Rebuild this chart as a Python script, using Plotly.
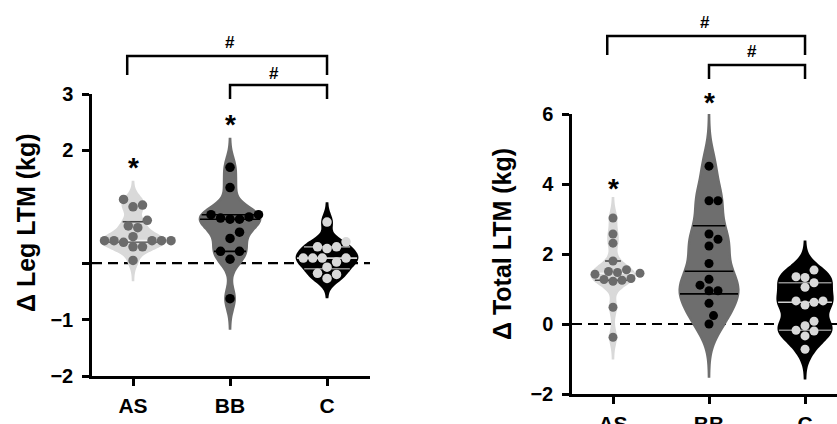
import numpy as np
import plotly.graph_objects as go

# ---------------- data ----------------
categories = ["AS", "BB", "C"]

leg_AS = [1.13, 1.03, 1.00, 0.76, 0.66, 0.63, 0.47, 0.40, 0.40, 0.40, 0.40, 0.40, 0.37, 0.29, 0.29, 0.05]
leg_BB = [1.70, 1.34, 0.86, 0.86, 0.82, 0.80, 0.78, 0.78, 0.55, 0.44, 0.21, 0.21, 0.07, -0.63]
leg_C = [0.73, 0.38, 0.29, 0.29, 0.26, 0.09, 0.09, 0.09, 0.09, 0.02, -0.07, -0.18, -0.20, -0.27]

tot_AS = [3.03, 2.57, 2.31, 1.80, 1.55, 1.50, 1.47, 1.45, 1.42, 1.30, 1.27, 1.25, 1.22, 0.48, -0.38]
tot_BB = [4.51, 3.52, 3.52, 2.57, 2.42, 2.23, 1.73, 1.28, 1.11, 0.95, 0.95, 0.59, 0.24, 0.00]
tot_C = [1.54, 1.35, 1.33, 1.18, 1.05, 0.66, 0.66, 0.62, 0.54, 0.08, -0.05, -0.18, -0.20, -0.34, -0.72]

# violin smoothing and extent
leg_bw = [0.12, 0.19, 0.13]
tot_bw = [0.22, 0.5, 0.3]
leg_spans = [[-0.30, 1.44], [-1.16, 2.20], [-0.60, 1.06]]
tot_spans = [[-0.98, 3.59], [-1.50, 6.00], [-1.55, 2.35]]
leg_widths = [0.64, 0.62, 0.62]
tot_widths = [0.44, 0.61, 0.57]

leg_ticks = [-2, -1, 0, 2, 3]
leg_ticktext = ["\u22122", "\u22121", "", "2", "3"]
tot_ticks = [-2, 0, 2, 4, 6]
tot_ticktext = ["\u22122", "0", "2", "4", "6"]

# ---------------- style ----------------
W, H = 837, 424
FONT = "Liberation Sans"
fills = ["#d9d9d9", "#6e6e6e", "#000000"]
dots = ["#6b6b6b", "#000000", "#d9d9d9"]
qcolors = ["#4a4a4a", "#000000", "#8c8c8c"]
medcolors = ["#f2f2f2", "#000000", "#d0d0d0"]


def py(px):  # pixel row -> paper fraction
    return (H - px) / H


panels = [
    dict(data=[leg_AS, leg_BB, leg_C], bw=leg_bw, spans=leg_spans, widths=leg_widths,
         xdom=[92 / W, 370 / W], ydom=[py(376), py(94)],
         xr=[-0.423, 2.443], yr=[-2, 3], ticks=leg_ticks, ticktext=leg_ticktext,
         title="\u0394 Leg LTM (kg)", tpos=(26 / W, py(223)), dot=9.5,
         stars=[(0, py(167)), (1, py(125))],
         br1=(py(56), py(75)), br2=(py(85), py(99)),
         h1=(1.0, py(42)), h2=(1.45, py(73))),
    dict(data=[tot_AS, tot_BB, tot_C], bw=tot_bw, spans=tot_spans, widths=tot_widths,
         xdom=[572 / W, 1.0], ydom=[py(394), py(114)],
         xr=[-0.427, 2.333], yr=[-2, 6], ticks=tot_ticks, ticktext=tot_ticktext,
         title="\u0394 Total LTM (kg)", tpos=(502 / W, py(244)), dot=9,
         stars=[(0, py(188)), (1, py(102))],
         br1=(py(36), py(55)), br2=(py(65), py(79)),
         h1=(0.96, py(22)), h2=(1.45, py(52))),
]


def kde_at(vals, bw, span, y):
    v = np.asarray(vals, float)
    grid = np.linspace(span[0], span[1], 600)
    dens = np.exp(-0.5 * ((grid[:, None] - v[None, :]) / bw) ** 2).sum(1)
    d = np.exp(-0.5 * ((y - v) / bw) ** 2).sum()
    return float(d / dens.max())


def swarm(vals, ppx, ppy, diam):
    v = np.asarray(vals, float)
    order = np.argsort(v)
    placed = []
    offs = np.zeros(len(v))
    cands = [0.0]
    for k in range(1, 12):
        cands += [k * 0.5 * diam, -k * 0.5 * diam]
    for i in order:
        yp = v[i] * ppy
        for c in cands:
            ok = all((c - px) ** 2 + (yp - pyy) ** 2 >= (diam * 0.98) ** 2 for px, pyy in placed)
            if ok:
                placed.append((c, yp))
                offs[i] = c / ppx
                break
    return offs


fig = go.Figure()
layout = dict(width=W, height=H, margin=dict(l=0, r=0, t=0, b=0, autoexpand=False),
              paper_bgcolor="white", plot_bgcolor="rgba(0,0,0,0)",
              showlegend=False, violinmode="overlay", shapes=[], annotations=[])

for p_i, P in enumerate(panels):
    xa = "x" if p_i == 0 else "x2"
    ya = "y" if p_i == 0 else "y2"
    xkey = "xaxis" if p_i == 0 else "xaxis2"
    ykey = "yaxis" if p_i == 0 else "yaxis2"
    ppx = (P["xdom"][1] - P["xdom"][0]) * W / (P["xr"][1] - P["xr"][0])
    ppy = (P["ydom"][1] - P["ydom"][0]) * H / (P["yr"][1] - P["yr"][0])

    # zero dashed line
    layout["shapes"].append(dict(type="line", xref=xa + " domain", yref=ya, x0=0, x1=1, y0=0, y1=0,
                                 line=dict(color="black", width=2.2, dash="10px,6px"), layer="below"))

    for c_i, vals in enumerate(P["data"]):
        bw = P["bw"][c_i]
        wd = P["widths"][c_i]
        sp = P["spans"][c_i]
        fig.add_trace(go.Violin(
            x0=c_i, y=vals, xaxis=xa, yaxis=ya, bandwidth=bw, spanmode="manual", span=sp,
            width=wd, scalemode="width", points=False, fillcolor=fills[c_i],
            line=dict(color=fills[c_i], width=2.5), box_visible=False,
            meanline_visible=False, hoverinfo="skip", opacity=1))
        # quartile lines
        q1, med, q3 = np.percentile(vals, [25, 50, 75], method="weibull")
        for q, col in [(q1, qcolors[c_i]), (q3, qcolors[c_i]), (med, medcolors[c_i])]:
            hw = kde_at(vals, bw, sp, q) * wd / 2
            fig.add_trace(go.Scatter(x=[c_i - hw, c_i + hw], y=[q, q], xaxis=xa, yaxis=ya,
                                     mode="lines", line=dict(color=col, width=1.6),
                                     hoverinfo="skip"))
        offs = swarm(vals, ppx, ppy, P["dot"])
        fig.add_trace(go.Scatter(x=c_i + offs, y=vals, xaxis=xa, yaxis=ya, mode="markers",
                                 marker=dict(color=dots[c_i], size=P["dot"], line=dict(width=0)),
                                 hoverinfo="skip"))

    layout[xkey] = dict(domain=P["xdom"], range=P["xr"], anchor=ya, showgrid=False, zeroline=False,
                        showline=True, linecolor="black", linewidth=2.5,
                        tickmode="array", tickvals=[0, 1, 2], ticktext=categories,
                        ticks="outside", ticklen=7, tickwidth=2.5, tickcolor="black",
                        ticklabelstandoff=2,
                        tickfont=dict(family=FONT, size=21, color="black", weight="bold"))
    layout[ykey] = dict(domain=P["ydom"], range=P["yr"], anchor=xa, showgrid=False, zeroline=False,
                        showline=True, linecolor="black", linewidth=2.5,
                        tickmode="array", tickvals=P["ticks"], ticktext=P["ticktext"],
                        ticks="outside", ticklen=7, tickwidth=2.5, tickcolor="black",
                        ticklabelstandoff=5,
                        tickfont=dict(family=FONT, size=20, color="black", weight="bold"))

    # y title
    layout["annotations"].append(dict(text=P["title"], xref="paper", yref="paper",
                                      x=P["tpos"][0], y=P["tpos"][1], textangle=-90,
                                      showarrow=False, xanchor="center", yanchor="middle",
                                      font=dict(family=FONT, size=25, color="black", weight="bold")))
    # stars
    for cx, cy in P["stars"]:
        layout["annotations"].append(dict(text="*", xref=xa, yref="paper", x=cx, y=cy, showarrow=False,
                                          xanchor="center", yanchor="middle",
                                          font=dict(family=FONT, size=28, color="black", weight="bold")))
    # brackets
    lw = dict(color="black", width=2.5)
    t1, b1 = P["br1"]
    t2, b2 = P["br2"]
    layout["shapes"].append(dict(type="path", xref=xa, yref="paper",
                                 path=f"M -0.06 {b1} L -0.06 {t1} L 2 {t1} L 2 {b1}", line=lw))
    layout["shapes"].append(dict(type="path", xref=xa, yref="paper",
                                 path=f"M 1 {b2} L 1 {t2} L 2 {t2} L 2 {b2}", line=lw))
    for hx, hy in [P["h1"], P["h2"]]:
        layout["annotations"].append(dict(text="#", xref=xa, yref="paper", x=hx, y=hy, showarrow=False,
                                          xanchor="center", yanchor="middle",
                                          font=dict(family=FONT, size=17, color="black", weight="bold")))

fig.update_layout(**layout)
fig.write_html("out.html", config={"displayModeBar": False},
               post_script="document.body.style.margin='0px';document.body.style.overflow='hidden';")
